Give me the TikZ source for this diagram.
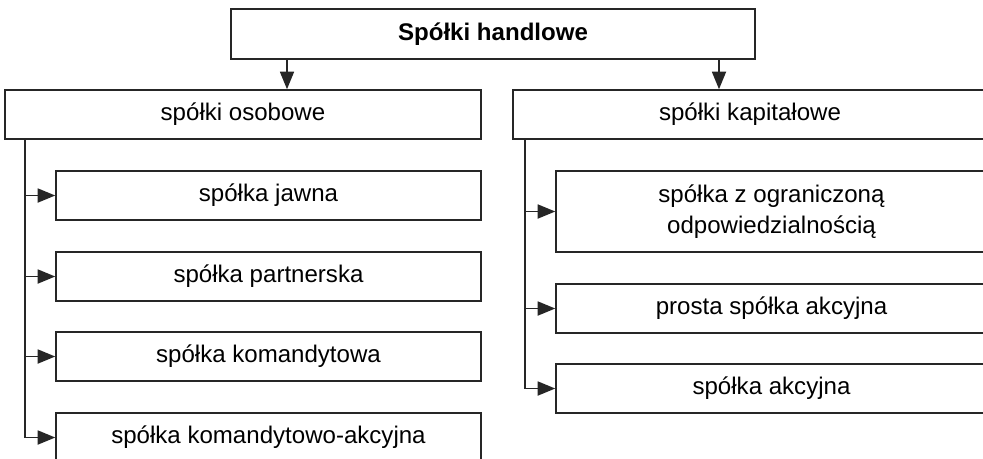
\documentclass[tikz,border=0pt]{standalone}
\usepackage{fontspec}
\setmainfont{Liberation Sans}
\usetikzlibrary{arrows.meta}

\tikzset{
  box/.style={draw=black!85, line width=0.9pt, fill=white, align=center,
    minimum height=0.98cm, inner sep=0pt, font=\fontsize{13.7}{17.6}\selectfont},
  arr/.style={draw=black!85, line width=0.9pt, -{Triangle[length=10pt,width=8pt]}},
  trunk/.style={draw=black!85, line width=0.9pt}
}

\begin{document}
\begin{tikzpicture}[x=0.02cm, y=-0.02cm]
  \useasboundingbox (0,0) rectangle (983,458);
  \clip (0,0) rectangle (983,458);

  \node[box, minimum width=10.48cm, minimum height=1cm] (root) at (493,34) {\textbf{Spółki handlowe}};
  \node[box, minimum width=9.52cm] (osob) at (243,114.5) {spółki osobowe};
  \node[box, minimum width=9.48cm] (kap) at (750,114.5) {spółki kapitałowe};

  \node[box, minimum width=8.5cm] (jawna) at (268.5,195.5) {spółka jawna};
  \node[box, minimum width=8.5cm] (partner) at (268.5,276.5) {spółka partnerska};
  \node[box, minimum width=8.5cm] (koman) at (268.5,356.5) {spółka komandytowa};
  \node[box, minimum width=8.5cm] (kakc) at (268.5,437.5) {spółka komandytowo-akcyjna};

  \node[box, minimum width=8.62cm, minimum height=1.62cm] (zoo) at (771.5,211.5) {spółka z ograniczoną\\odpowiedzialnością};
  \node[box, minimum width=8.62cm] (psa) at (771.5,308.5) {prosta spółka akcyjna};
  \node[box, minimum width=8.62cm] (sa) at (771.5,388.5) {spółka akcyjna};

  \draw[arr] (root.south -| 287,0) -- (osob.north -| 287,0);
  \draw[arr] (root.south -| 719,0) -- (kap.north -| 719,0);

  \coordinate (lt) at (osob.south -| 25,0);
  \coordinate (rt) at (kap.south -| 525,0);
  \draw[trunk] (lt) -- (lt |- kakc.west);
  \draw[trunk] (rt) -- (rt |- sa.west);
  \foreach \n in {jawna,partner,koman,kakc}
    \draw[arr] (lt |- \n.west) -- (\n.west);
  \foreach \n in {zoo,psa,sa}
    \draw[arr] (rt |- \n.west) -- (\n.west);
\end{tikzpicture}
\end{document}
